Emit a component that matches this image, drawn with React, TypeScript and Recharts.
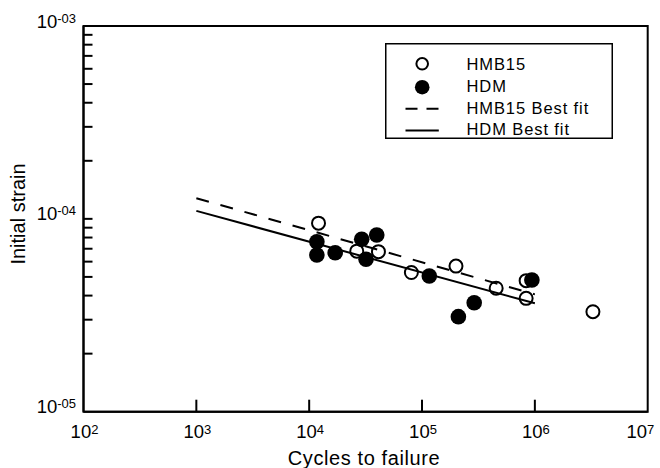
import {
  ScatterChart,
  Scatter,
  XAxis,
  YAxis,
  Legend,
  ReferenceArea,
  Label,
} from "recharts";

// (cycles to failure vs initial strain)
const hmb15Cycles = [12100, 26400, 41100, 80500, 200000, 454000, 837000, 837000, 3270000];
const hmb15Strain = [9.5e-5, 6.8e-5, 6.76e-5, 5.27e-5, 5.69e-5, 4.37e-5, 4.78e-5, 3.87e-5, 3.3e-5];

const hdmCycles = [11700, 11700, 17000, 29200, 39700, 31900, 116000, 941000, 290000, 210000];
const hdmStrain = [7.61e-5, 6.49e-5, 6.67e-5, 7.83e-5, 8.24e-5, 6.17e-5, 5.05e-5, 4.82e-5, 3.67e-5, 3.11e-5];

const fitCycles = [1e3, 1e6];
const hmb15Fit = [1.28e-4, 4.06e-5];
const hdmFit = [1.1e-4, 3.65e-5];

const xTicks = [1e2, 1e3, 1e4, 1e5, 1e6, 1e7];
const yTicks = [
  1e-5, 2e-5, 3e-5, 4e-5, 5e-5, 6e-5, 7e-5, 8e-5, 9e-5,
  1e-4, 2e-4, 3e-4, 4e-4, 5e-4, 6e-4, 7e-4, 8e-4, 9e-4,
  1e-3,
];

const FONT = "'Liberation Sans', Arial, sans-serif";

const toPoints = (xs: number[], ys: number[]) => xs.map((x, i) => ({ x, y: ys[i] }));

const hmb15Data = toPoints(hmb15Cycles, hmb15Strain);
const hdmData = toPoints(hdmCycles, hdmStrain);
const hmb15FitData = toPoints(fitCycles, hmb15Fit);
const hdmFitData = toPoints(fitCycles, hdmFit);

const isMajor = (v: number) => {
  const e = Math.round(Math.log10(v));
  return Math.abs(v / Math.pow(10, e) - 1) < 1e-6;
};

function XTick(props: any) {
  const { x, y, payload } = props;
  const v = payload.value;
  const e = Math.round(Math.log10(v));
  const first = v === xTicks[0];
  const last = v === xTicks[xTicks.length - 1];
  return (
    <g>
      {!first && !last && (
        <line x1={x} x2={x} y1={y} y2={y - 12} stroke="#000" strokeWidth={2} />
      )}
      <text
        x={last ? x + 6.5 : x + 1}
        y={y + 26.6}
        textAnchor={last ? "end" : "middle"}
        fontSize={18.5}
        fontFamily={FONT}
        fill="#000"
      >
        10
        <tspan fontSize={13} dy={-4.5}>{e}</tspan>
      </text>
    </g>
  );
}

function YTick(props: any) {
  const { x, y, payload } = props;
  const v = payload.value;
  const edge = v === yTicks[0] || v === yTicks[yTicks.length - 1];
  const e = Math.round(Math.log10(v));
  return (
    <g>
      {!edge && <line x1={x} x2={x + 9} y1={y} y2={y} stroke="#000" strokeWidth={2} />}
      {isMajor(v) && (
        <text x={x - 7.5} y={y + 1.5} textAnchor="end" fontSize={18.5} fontFamily={FONT} fill="#000">
          10
          <tspan fontSize={13} dy={-5}>{"-0" + Math.abs(e)}</tspan>
        </text>
      )}
    </g>
  );
}

const openDot = (p: any) => (
  <circle cx={p.cx} cy={p.cy} r={6.5} fill="#fff" stroke="#000" strokeWidth={2} />
);
const filledDot = (p: any) => <circle cx={p.cx} cy={p.cy} r={7.8} fill="#000" />;
const noDot = () => <g />;

function LegendBox() {
  const textProps = { fontSize: 16.5, fontFamily: FONT, fill: "#000", letterSpacing: 0.9 };
  return (
    <svg width={228} height={96}>
      <rect x={0.75} y={0.75} width={226.5} height={94.5} fill="#fff" stroke="#000" strokeWidth={1.5} />
      <circle cx={37.2} cy={20.8} r={5.8} fill="#fff" stroke="#000" strokeWidth={2} />
      <text x={81.5} y={26.8} {...textProps}>HMB15</text>
      <circle cx={37.2} cy={44.2} r={7.3} fill="#000" />
      <text x={81.5} y={49.2} {...textProps}>HDM</text>
      <line x1={20.5} x2={53.8} y1={65.8} y2={65.8} stroke="#000" strokeWidth={2} strokeDasharray="12 9" />
      <text x={81.5} y={70.8} {...textProps}>HMB15 Best fit</text>
      <line x1={20.5} x2={53.8} y1={87.5} y2={87.5} stroke="#000" strokeWidth={2} />
      <text x={81.5} y={91.8} {...textProps}>HDM Best fit</text>
    </svg>
  );
}

export default function App() {
  return (
    <div style={{ position: "absolute", left: 0, top: 0 }}>
      <ScatterChart
        width={660}
        height={468}
        margin={{ top: 26, right: 12.3, bottom: 0, left: 0 }}
      >
        <XAxis
          type="number"
          dataKey="x"
          scale="log"
          domain={[1e2, 1e7]}
          ticks={xTicks}
          interval={0}
          allowDataOverflow
          height={56.3}
          tickSize={0}
          tickMargin={0}
          tickLine={false}
          axisLine={{ stroke: "#000", strokeWidth: 2 }}
          tick={(p: any) => <XTick {...p} />}
        >
          <Label
            content={() => (
              <text x={364} y={465} textAnchor="middle" fontSize={20} letterSpacing={0.6} fontFamily={FONT} fill="#000">
                Cycles to failure
              </text>
            )}
          />
        </XAxis>
        <YAxis
          type="number"
          dataKey="y"
          scale="log"
          domain={[1e-5, 1e-3]}
          ticks={yTicks}
          interval={0}
          allowDataOverflow
          width={83.5}
          tickSize={0}
          tickMargin={0}
          tickLine={false}
          axisLine={{ stroke: "#000", strokeWidth: 2 }}
          tick={(p: any) => <YTick {...p} />}
        >
          <Label
            content={() => (
              <text
                x={25}
                y={214}
                transform="rotate(-90, 25, 214)"
                textAnchor="middle"
                fontSize={20}
                fontFamily={FONT}
                fill="#000"
              >
                Initial strain
              </text>
            )}
          />
        </YAxis>
        <ReferenceArea
          x1={1e2}
          x2={1e7}
          y1={1e-5}
          y2={1e-3}
          fill="none"
          stroke="#000"
          strokeWidth={2}
        />
        <Scatter name="HMB15" data={hmb15Data} shape={openDot} isAnimationActive={false} />
        <Scatter name="HDM" data={hdmData} shape={filledDot} isAnimationActive={false} />
        <Scatter
          name="HMB15 Best fit"
          data={hmb15FitData}
          shape={noDot}
          line={{ stroke: "#000", strokeWidth: 2, strokeDasharray: "13 12" }}
          isAnimationActive={false}
        />
        <Scatter
          name="HDM Best fit"
          data={hdmFitData}
          shape={noDot}
          line={{ stroke: "#000", strokeWidth: 2 }}
          isAnimationActive={false}
        />
        <Legend
          layout="vertical"
          align="center"
          verticalAlign="middle"
          wrapperStyle={{ left: 384.5, top: 42.5, width: 228, height: 96 }}
          content={() => <LegendBox />}
        />
      </ScatterChart>
    </div>
  );
}
